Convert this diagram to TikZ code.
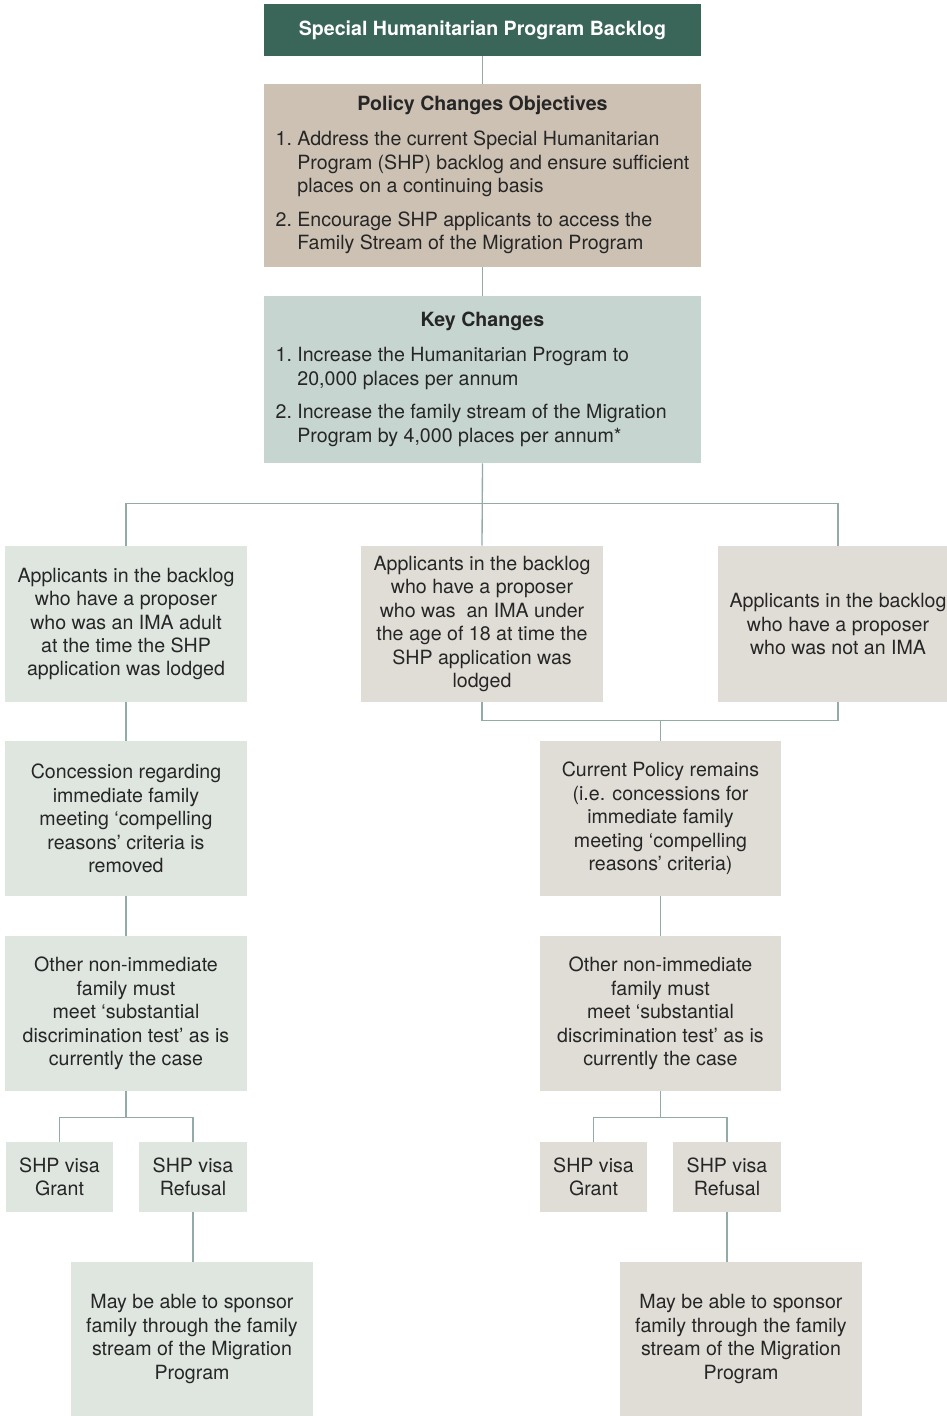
\documentclass[tikz,border=0pt]{standalone}
\usepackage{fontspec}
\setmainfont{TeX Gyre Heros}
\usepackage{tikz}
\definecolor{shpdark}{HTML}{3A6559}
\definecolor{shptan}{HTML}{CDC1B3}
\definecolor{shpkey}{HTML}{C6D5D0}
\definecolor{shpgreen}{HTML}{DFE6E0}
\definecolor{shpbeige}{HTML}{E0DDD6}
\definecolor{shpline}{HTML}{92ABA6}
\definecolor{shptext}{HTML}{262626}

\begin{document}
\begin{tikzpicture}[
    x=0.75pt, y=-0.75pt,
    sz/.style 2 args={minimum width=#1*0.75pt, minimum height=#2*0.75pt},
    box/.style={inner sep=0pt, align=center, text=shptext, font=\fontsize{14.7}{17.6}\selectfont},
    head/.style={box, fill=shpdark, text=white, font=\fontsize{14.7}{17.6}\selectfont\bfseries},
    green/.style={box, fill=shpgreen},
    beige/.style={box, fill=shpbeige},
    link/.style={draw=shpline, line width=1pt}
]
\useasboundingbox (0,0) rectangle (946,1416);

% top of the chart
\node[head, sz={437}{52}] (title) at (482.5,30) {Special Humanitarian Program Backlog};
\node[box, fill=shptan, sz={437}{183}] (obj) at (482.5,175.5) {%
  \begin{tabular}{@{}l@{\ }p{294pt}@{}}
  \multicolumn{2}{c}{\bfseries Policy Changes Objectives}\\[9pt]
  1. & Address the current Special Humanitarian\\
     & Program (SHP) backlog and ensure sufficient\\
     & places on a continuing basis\\[7.5pt]
  2. & Encourage SHP applicants to access the\\
     & Family Stream of the Migration Program
  \end{tabular}};
\node[box, fill=shpkey, sz={437}{167}] (key) at (482.5,379.5) {%
  \begin{tabular}{@{}l@{\ }p{294pt}@{}}
  \multicolumn{2}{c}{\bfseries Key Changes}\\[9pt]
  1. & Increase the Humanitarian Program to\\
     & 20,000 places per annum\\[7.5pt]
  2. & Increase the family stream of the Migration\\
     & Program by 4,000 places per annum*
  \end{tabular}};
\draw[link] (title) -- (obj);
\draw[link] (obj) -- (key);

% three groups of applicants
\node[green, sz={242}{156}] (adult) at (126,624) {Applicants in the backlog\\who have a proposer\\who was an IMA adult\\at the time the SHP\\application was lodged};
\node[beige, sz={242}{156}] (minor) at (482,624) {Applicants in the backlog\\who have a proposer\\who was\ \ an IMA under\\the age of 18 at time the\\SHP application was\\lodged};
\node[beige, sz={240}{156}] (notima) at (838,624) {Applicants in the backlog\\who have a proposer\\who was not an IMA};
\draw[link] (key.south) -- (minor.north);
\draw[link] (adult.north) -- ++(0,-42) -| (notima.north);

% left branch
\node[green, sz={242}{155}] (removed) at (126,818.5) {Concession regarding\\immediate family\\meeting ‘compelling\\reasons’ criteria is\\removed};
\node[green, sz={242}{155}] (otherL) at (126,1013.5) {Other non-immediate\\family must\\meet ‘substantial\\discrimination test’ as is\\currently the case};
\node[green, sz={107}{70}] (grantL) at (59.5,1177) {SHP visa\\Grant};
\node[green, sz={108}{70}] (refuseL) at (193,1177) {SHP visa\\Refusal};
\node[green, sz={242}{154}] (sponsorL) at (192,1339) {May be able to sponsor\\family through the family\\stream of the Migration\\Program};
\draw[link] (adult) -- (removed);
\draw[link] (removed) -- (otherL);
\draw[link] (otherL.south) -- ++(0,27);
\draw[link] (grantL.north) -- ++(0,-24) -| (refuseL.north);
\draw[link] (refuseL.south) -- (refuseL.south |- sponsorL.north);

% right branch
\node[beige, sz={241}{155}] (remains) at (660.5,818.5) {Current Policy remains\\(i.e. concessions for\\immediate family\\meeting ‘compelling\\reasons’ criteria)};
\node[beige, sz={241}{155}] (otherR) at (660.5,1013.5) {Other non-immediate\\family must\\meet ‘substantial\\discrimination test’ as is\\currently the case};
\node[beige, sz={107}{70}] (grantR) at (593.5,1177) {SHP visa\\Grant};
\node[beige, sz={108}{70}] (refuseR) at (727,1177) {SHP visa\\Refusal};
\node[beige, sz={242}{154}] (sponsorR) at (741,1339) {May be able to sponsor\\family through the family\\stream of the Migration\\Program};
\draw[link] (minor.south) -- ++(0,18) coordinate (join) -| (notima.south);
\draw[link] (remains.north) -- (remains.north |- join);
\draw[link] (remains) -- (otherR);
\draw[link] (otherR.south) -- ++(0,27);
\draw[link] (grantR.north) -- ++(0,-24) -| (refuseR.north);
\draw[link] (refuseR.south) -- (refuseR.south |- sponsorR.north);
\end{tikzpicture}
\end{document}
